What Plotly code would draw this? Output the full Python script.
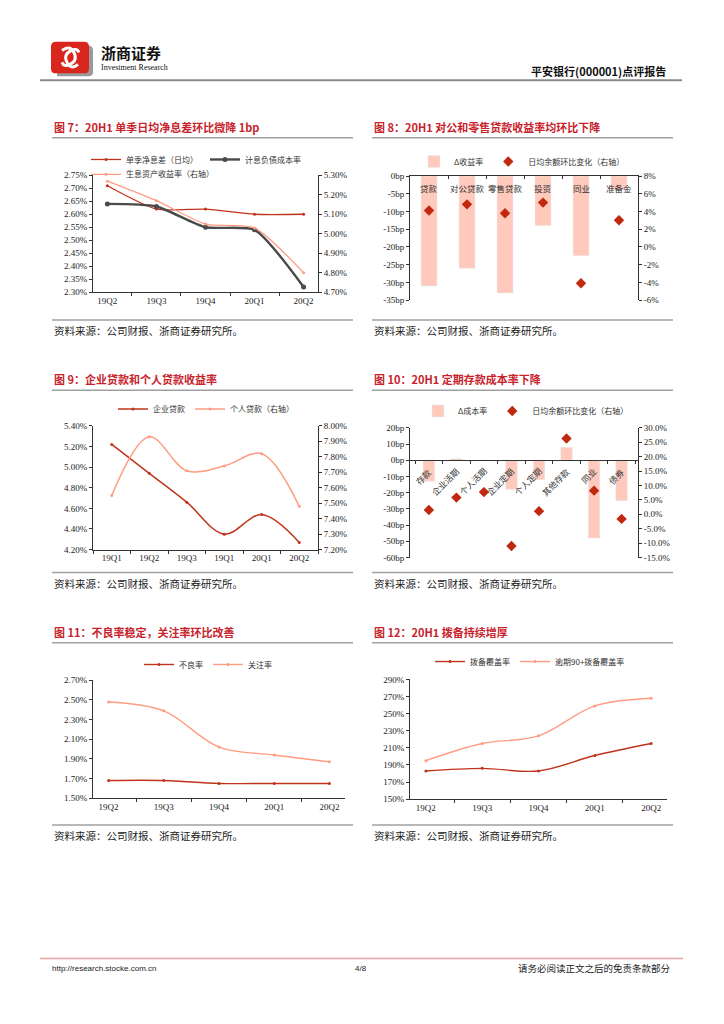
import plotly.graph_objects as go

W, H = 724, 1024

# ---------------- data ----------------
# Chart 7
q5 = ["19Q2", "19Q3", "19Q4", "20Q1", "20Q2"]
nim = [2.71, 2.62, 2.62, 2.60, 2.60]
cost_liab = [2.64, 2.63, 2.55, 2.54, 2.32]
yield_asset = [5.27, 5.17, 5.05, 5.03, 4.80]

# Chart 8
c8_cats = ["贷款", "对公贷款", "零售贷款", "投资", "同业", "准备金"]
c8_delta = [-31, -26, -33, -14, -22.5, -4]
c8_bal = [4.1, 4.8, 3.8, 5.0, -4.1, 3.0]

# Chart 9
q6 = ["19Q1", "19Q2", "19Q3", "19Q1", "20Q1", "20Q2"]
corp_loan = [5.22, 4.94, 4.66, 4.35, 4.54, 4.27]
retail_loan = [7.55, 7.93, 7.71, 7.74, 7.82, 7.48]

# Chart 10
c10_cats = ["存款", "企业活期", "个人活期", "企业定期", "个人定期", "其他存款", "同业", "债券"]
c10_delta = [-13, 1, 0, -18, -12, 8, -48, -25]
c10_bal = [1.5, 5.8, 7.7, -11.0, 1.1, 26.3, 8.2, -1.6]

# Chart 11
npl = [1.68, 1.68, 1.65, 1.65, 1.65]
sml = [2.48, 2.39, 2.02, 1.94, 1.87]

# Chart 12
cov = [183, 186, 183, 201, 215]
cov90 = [195, 215, 224, 259, 268]

# tick arrays
c8_left_ticks = [0, -5, -10, -15, -20, -25, -30, -35]
c8_right_ticks = [8, 6, 4, 2, 0, -2, -4, -6]
c10_left_ticks = [20, 10, 0, -10, -20, -30, -40, -50, -60]
c10_right_ticks = [30, 25, 20, 15, 10, 5, 0, -5, -10, -15]

# ---------------- style ----------------
CJK = "Noto Sans CJK SC"
NUM = "Liberation Serif"
DARK = "#C0341D"
LIGHT = "#FF9C82"
GREY = "#4A4A4A"
BAR = "#FFC9BC"
DIAM = "#C0280F"
TITLE_RED = "#C8232C"
AX = "#333333"


def dx(a, b):
    return [a / W, b / W]


def dy(top, bottom):
    return [1 - bottom / H, 1 - top / H]


def py(v):
    return 1 - v / H


tickfont = dict(family=NUM, size=9, color="#222")
ax = dict(showline=True, linecolor=AX, linewidth=1, ticks="outside", ticklen=3,
          tickcolor=AX, showgrid=False, zeroline=False, tickfont=tickfont, fixedrange=True)


def fmt_bp(v):
    return f"{v}bp"


def fmt_pct0(v):
    return f"{v}%"


def fmt_pct1(v):
    return f"{v:.1f}%"


fig = go.Figure()

# ---------------- Chart 7 ----------------
fig.add_trace(go.Scatter(x=q5, y=nim, name="单季净息差（日均）", mode="lines+markers",
                         line=dict(color=DARK, width=1.3, shape="spline", smoothing=0.6),
                         marker=dict(size=3, color=DARK), xaxis="x", yaxis="y", legend="legend"))
fig.add_trace(go.Scatter(x=q5, y=cost_liab, name="计息负债成本率", mode="lines+markers",
                         line=dict(color=GREY, width=2.4, shape="spline", smoothing=0.6),
                         marker=dict(size=5, color=GREY), xaxis="x", yaxis="y", legend="legend"))
fig.add_trace(go.Scatter(x=q5, y=yield_asset, name="生息资产收益率（右轴）", mode="lines+markers",
                         line=dict(color=LIGHT, width=1.3, shape="spline", smoothing=0.6),
                         marker=dict(size=3, color=LIGHT), xaxis="x", yaxis="y2", legend="legend2"))

# ---------------- Chart 8 ----------------
fig.add_trace(go.Bar(x=c8_cats, y=c8_delta, name="Δ收益率", marker_color=BAR, width=0.42,
                     xaxis="x2", yaxis="y3", legend="legend3"))
fig.add_trace(go.Scatter(x=c8_cats, y=c8_bal, name="日均余额环比变化（右轴）", mode="markers",
                         marker=dict(symbol="diamond", size=8, color=DIAM),
                         xaxis="x2", yaxis="y4", legend="legend3"))

# ---------------- Chart 9 ----------------
x9 = list(range(len(q6)))
fig.add_trace(go.Scatter(x=x9, y=corp_loan, name="企业贷款", mode="lines+markers",
                         line=dict(color=DARK, width=1.5, shape="spline"),
                         marker=dict(size=3, color=DARK), xaxis="x3", yaxis="y5", legend="legend4"))
fig.add_trace(go.Scatter(x=x9, y=retail_loan, name="个人贷款（右轴）", mode="lines+markers",
                         line=dict(color=LIGHT, width=1.5, shape="spline"),
                         marker=dict(size=3, color=LIGHT), xaxis="x3", yaxis="y6", legend="legend4"))

# ---------------- Chart 10 ----------------
fig.add_trace(go.Bar(x=c10_cats, y=c10_delta, name="Δ成本率", marker_color=BAR, width=0.42,
                     xaxis="x4", yaxis="y7", legend="legend5"))
fig.add_trace(go.Scatter(x=c10_cats, y=c10_bal, name="日均余额环比变化（右轴）", mode="markers",
                         marker=dict(symbol="diamond", size=8, color=DIAM),
                         xaxis="x4", yaxis="y8", legend="legend5"))

# ---------------- Chart 11 ----------------
fig.add_trace(go.Scatter(x=q5, y=npl, name="不良率", mode="lines+markers",
                         line=dict(color=DARK, width=1.4, shape="spline"),
                         marker=dict(size=3, color=DARK), xaxis="x5", yaxis="y9", legend="legend6"))
fig.add_trace(go.Scatter(x=q5, y=sml, name="关注率", mode="lines+markers",
                         line=dict(color=LIGHT, width=1.4, shape="spline"),
                         marker=dict(size=3, color=LIGHT), xaxis="x5", yaxis="y9", legend="legend6"))

# ---------------- Chart 12 ----------------
fig.add_trace(go.Scatter(x=q5, y=cov, name="拨备覆盖率", mode="lines+markers",
                         line=dict(color=DARK, width=1.4, shape="spline"),
                         marker=dict(size=3, color=DARK), xaxis="x6", yaxis="y10", legend="legend7"))
fig.add_trace(go.Scatter(x=q5, y=cov90, name="逾期90+拨备覆盖率", mode="lines+markers",
                         line=dict(color=LIGHT, width=1.4, shape="spline"),
                         marker=dict(size=3, color=LIGHT), xaxis="x6", yaxis="y10", legend="legend7"))

# ---------------- axes ----------------
c10_top, c10_bot = 427, 558
c10_range = [-60, 20]
zero_px = c10_top + (c10_range[1] - 0) / (c10_range[1] - c10_range[0]) * (c10_bot - c10_top)

layout_axes = dict(
    # chart 7
    xaxis=dict(domain=dx(93, 318), anchor="y", type="category", tickson="boundaries", **ax),
    yaxis=dict(domain=dy(172, 290), anchor="x", range=[2.30, 2.75], tick0=2.30, dtick=0.05,
               tickformat=".2f", ticksuffix="%", **ax),
    yaxis2=dict(overlaying="y", side="right", anchor="x", range=[4.70, 5.30], tick0=4.70, dtick=0.1,
                tickformat=".2f", ticksuffix="%", **ax),
    # chart 8
    xaxis2=dict(domain=dx(410, 638), anchor="y3", type="category", side="top", showticklabels=False,
                **{**ax, "ticks": "inside"}, tickson="boundaries"),
    yaxis3=dict(domain=dy(172.7, 298), anchor="x2", range=[-35, 0], tickvals=c8_left_ticks,
                ticktext=[fmt_bp(v) for v in c8_left_ticks], **ax),
    yaxis4=dict(overlaying="y3", side="right", anchor="x2", range=[-6, 8], tickvals=c8_right_ticks,
                ticktext=[fmt_pct0(v) for v in c8_right_ticks], **ax),
    # chart 9
    xaxis3=dict(domain=dx(93, 318), anchor="y5", range=[-0.5, len(q6) - 0.5], tickmode="array",
                tickvals=x9, ticktext=q6, **{**ax, "ticks": ""},
                minor=dict(ticks="outside", tick0=-0.5, dtick=1, ticklen=3, tickcolor=AX)),
    yaxis5=dict(domain=dy(425, 550), anchor="x3", range=[4.20, 5.40], tick0=4.20, dtick=0.2,
                tickformat=".2f", ticksuffix="%", **ax),
    yaxis6=dict(overlaying="y5", side="right", anchor="x3", range=[7.20, 8.00], tick0=7.20, dtick=0.1,
                tickformat=".2f", ticksuffix="%", **ax),
    # chart 10
    xaxis4=dict(domain=dx(410, 638), anchor="free", position=py(zero_px), type="category",
                showticklabels=False, tickson="boundaries", **ax),
    yaxis7=dict(domain=dy(c10_top, c10_bot), anchor="x4", range=c10_range, tickvals=c10_left_ticks,
                ticktext=[fmt_bp(v) for v in c10_left_ticks], **ax),
    yaxis8=dict(overlaying="y7", side="right", anchor="x4", range=[-15, 30], tickvals=c10_right_ticks,
                ticktext=[fmt_pct1(v) for v in c10_right_ticks], **ax),
    # chart 11
    xaxis5=dict(domain=dx(93, 345), anchor="y9", type="category", tickson="boundaries", **ax),
    yaxis9=dict(domain=dy(682, 801), anchor="x5", range=[1.50, 2.70], tick0=1.50, dtick=0.2,
                tickformat=".2f", ticksuffix="%", **ax),
    # chart 12
    xaxis6=dict(domain=dx(410, 667), anchor="y10", type="category", tickson="boundaries", **ax),
    yaxis10=dict(domain=dy(681, 802), anchor="x6", range=[150, 290], tick0=150, dtick=20,
                 ticksuffix="%", **ax),
)

legfont = dict(family=CJK, size=8, color="#333")
leg = dict(orientation="h", font=legfont, bgcolor="rgba(0,0,0,0)", yanchor="middle",
           itemwidth=30, traceorder="normal", itemclick=False, itemdoubleclick=False)
legends = dict(
    legend=dict(x=86 / W, y=py(156), xanchor="left", entrywidth=74, entrywidthmode="pixels", **leg),
    legend2=dict(x=86 / W, y=py(171), xanchor="left", **leg),
    legend3=dict(x=522 / W, y=py(158), xanchor="center", **leg),
    legend4=dict(x=206 / W, y=py(408), xanchor="center", **leg),
    legend5=dict(x=526 / W, y=py(410), xanchor="center", **leg),
    legend6=dict(x=208 / W, y=py(666), xanchor="center", **leg),
    legend7=dict(x=530 / W, y=py(663), xanchor="center", **leg),
)

# ---------------- annotations & shapes ----------------
ann = []
shapes = []


def text(x, y, s, size=9, color="#222", family=CJK, xanchor="left", **kw):
    ann.append(dict(x=x / W, y=py(y), xref="paper", yref="paper", text=s, showarrow=False,
                    xanchor=xanchor, yanchor="middle", font=dict(family=family, size=size, color=color), **kw))


def hline(x0, x1, y, color, width):
    shapes.append(dict(type="line", xref="paper", yref="paper", x0=x0 / W, x1=x1 / W, y0=py(y), y1=py(y),
                       line=dict(color=color, width=width)))


def pth(segs):
    out = []
    for cmd, pts in segs:
        if cmd == "Z":
            out.append("Z")
            continue
        coords = " ".join(f"{x / W:.5f},{py(y):.5f}" for x, y in pts)
        out.append(f"{cmd}{coords}")
    return " ".join(out)


# header logo: rounded red square with grey shadow
shapes.append(dict(type="path", xref="paper", yref="paper", line=dict(width=0), fillcolor="#9A9A9A",
                   path=pth([("M", [(57, 41)]), ("L", [(88, 41)]), ("Q", [(93, 41), (93, 46)]),
                             ("L", [(93, 68)]), ("Q", [(93, 72), (88, 72)]), ("L", [(57, 72)]), ("Z", [])])))
shapes.append(dict(type="path", xref="paper", yref="paper", line=dict(width=0), fillcolor="#D8261C",
                   path=pth([("M", [(56, 37)]), ("L", [(84, 37)]), ("Q", [(89, 37), (89, 42)]),
                             ("L", [(89, 64)]), ("Q", [(89, 69), (84, 69)]), ("L", [(56, 69)]),
                             ("Q", [(51, 69), (51, 64)]), ("L", [(51, 42)]), ("Q", [(51, 37), (56, 37)]), ("Z", [])])))
shapes.append(dict(type="path", xref="paper", yref="paper", line=dict(color="white", width=3),
                   path=pth([("M", [(62, 46)]), ("Q", [(70, 40), (74, 48)]), ("Q", [(78, 56), (70, 60)]),
                             ("Q", [(64, 63), (62, 58)])])))
shapes.append(dict(type="path", xref="paper", yref="paper", line=dict(color="white", width=3),
                   path=pth([("M", [(78, 60)]), ("Q", [(71, 66), (67, 58)]), ("Q", [(63, 50), (71, 46)]),
                             ("Q", [(77, 43), (79, 48)])])))
text(99, 48, "<b>浙商证券</b>", size=15, color="#111")
text(99, 63, "Investment Research", size=8, color="#111", family=NUM)
text(668, 67, "<b>平安银行(000001)点评报告</b>", size=11, color="#111", xanchor="right")
hline(40, 682, 76, "#8A8A8A", 2)

# footer
hline(40, 683, 963, "#E8A3A3", 1.5)
text(50, 973, "http://research.stocke.com.cn", size=8, color="#222", family="Liberation Sans")
text(361, 973, "4/8", size=8, color="#222", family="Liberation Sans", xanchor="center")
text(673, 973, "请务必阅读正文之后的免责条款部分", size=9.5, color="#222", xanchor="right")

titles = [
    (52, 123, "图 7：20H1 单季日均净息差环比微降 1bp"),
    (372, 123, "图 8：20H1 对公和零售贷款收益率均环比下降"),
    (52, 378, "图 9：企业贷款和个人贷款收益率"),
    (372, 378, "图 10：20H1 定期存款成本率下降"),
    (52, 633, "图 11：不良率稳定，关注率环比改善"),
    (372, 633, "图 12：20H1 拨备持续增厚"),
]
for x, y, s in titles:
    text(x, y, f"<b>{s}</b>", size=11, color=TITLE_RED)
    hline(x, x + 301, y + 11, "#A0A0A0", 1.5)
    hline(x, x + 301, y + 195, "#A0A0A0", 1.5)
    text(x, y + 206, "资料来源：公司财报、浙商证券研究所。", size=10.5, color="#222")

# chart 8 category labels (inside top)
for c in c8_cats:
    ann.append(dict(x=c, y=0, xref="x2", yref="y3", text=c, showarrow=False, yanchor="top", yshift=-4,
                    font=dict(family=CJK, size=8.5, color="#333")))
# chart 10 rotated category labels below zero line
for c in c10_cats:
    ann.append(dict(x=c, y=0, xref="x4", yref="y7", text=c, showarrow=False, textangle=-45,
                    xanchor="right", yanchor="top", xshift=8, yshift=-2,
                    font=dict(family=CJK, size=8.5, color="#333")))

fig.update_layout(
    width=W, height=H, margin=dict(l=0, r=0, t=0, b=0), autosize=False,
    paper_bgcolor="white", plot_bgcolor="rgba(0,0,0,0)",
    showlegend=True, bargap=0.5,
    annotations=ann, shapes=shapes,
    **layout_axes, **legends,
)

fig.write_html("out.html", config={"displayModeBar": False},
               post_script="document.body.style.margin='0';")
